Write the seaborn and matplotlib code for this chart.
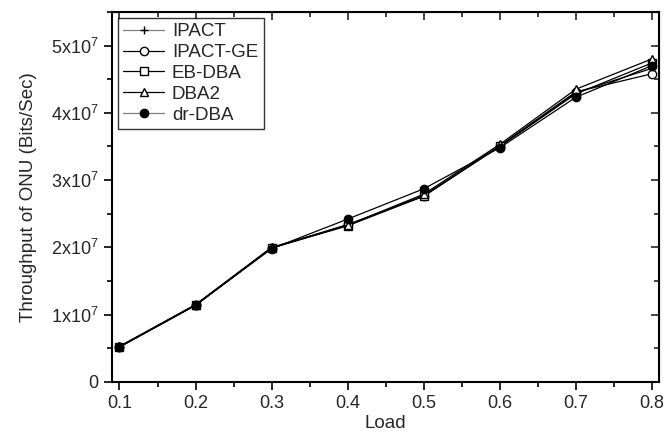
import numpy as np
import pandas as pd
import matplotlib
matplotlib.use('Agg')
import matplotlib.pyplot as plt
from matplotlib.ticker import MultipleLocator, FuncFormatter
import seaborn as sns

sns.set_style('ticks')
plt.rcParams['font.family'] = ['Liberation Sans', 'DejaVu Sans']
plt.rcParams['mathtext.fontset'] = 'custom'
plt.rcParams['mathtext.rm'] = 'Liberation Sans'

load = [0.1, 0.2, 0.3, 0.4, 0.5, 0.6, 0.7, 0.8]
ipact = [5.2e6, 1.14e7, 1.99e7, 2.33e7, 2.77e7, 3.50e7, 4.30e7, 4.66e7]
ipact_ge = [5.2e6, 1.14e7, 1.99e7, 2.34e7, 2.76e7, 3.51e7, 4.31e7, 4.58e7]
eb_dba = [5.2e6, 1.14e7, 1.99e7, 2.32e7, 2.76e7, 3.50e7, 4.28e7, 4.74e7]
dba2 = [5.3e6, 1.15e7, 2.0e7, 2.33e7, 2.79e7, 3.53e7, 4.35e7, 4.80e7]
dr_dba = [5.2e6, 1.14e7, 1.98e7, 2.42e7, 2.87e7, 3.48e7, 4.23e7, 4.70e7]

series = [
    ('IPACT', ipact, '+', 'black'),
    ('IPACT-GE', ipact_ge, 'o', 'white'),
    ('EB-DBA', eb_dba, 's', 'white'),
    ('DBA2', dba2, '^', 'white'),
    ('dr-DBA', dr_dba, 'o', 'black'),
]

fig = plt.figure(figsize=(6.66, 4.42), dpi=100)
ax = fig.add_axes([0.168, 0.136, 0.822, 0.837])

for name, vals, mk, fc in series:
    df = pd.DataFrame({'Load': load, 'val': vals})
    sns.lineplot(data=df, x='Load', y='val', ax=ax, color='black', linewidth=0.9,
                 marker=mk, markersize=6, markerfacecolor=fc, markeredgecolor='black',
                 markeredgewidth=1.0, label=name)

ax.set_xlim(0.09, 0.81)
ax.set_ylim(0, 5.5e7)
ax.xaxis.set_major_locator(MultipleLocator(0.1))
ax.xaxis.set_minor_locator(MultipleLocator(0.05))
ax.yaxis.set_major_locator(MultipleLocator(1e7))
ax.yaxis.set_minor_locator(MultipleLocator(0.5e7))

def yfmt(v, pos):
    n = int(round(v / 1e7))
    if n == 0:
        return '0'
    return r'%dx10$^{7}$' % n

ax.yaxis.set_major_formatter(FuncFormatter(yfmt))
ax.xaxis.set_major_formatter(FuncFormatter(lambda v, p: '%.1f' % v))

ax.tick_params(which='both', direction='out', labelsize=13, width=1.2, color='black')
ax.tick_params(which='major', length=6)
ax.tick_params(which='minor', length=3.5)
for s in ax.spines.values():
    s.set_linewidth(1.5)
    s.set_color('black')

# mirrored inward ticks on top and right
axt = ax.secondary_xaxis('top')
axt.xaxis.set_major_locator(MultipleLocator(0.1))
axt.xaxis.set_minor_locator(MultipleLocator(0.05))
axt.tick_params(which='both', direction='in', labeltop=False, width=1.2)
axt.tick_params(which='major', length=6)
axt.tick_params(which='minor', length=3.5)
axr = ax.secondary_yaxis('right')
axr.yaxis.set_major_locator(MultipleLocator(1e7))
axr.yaxis.set_minor_locator(MultipleLocator(0.5e7))
axr.tick_params(which='both', direction='in', labelright=False, width=1.2)
axr.tick_params(which='major', length=6)
axr.tick_params(which='minor', length=3.5)

ax.set_xlabel('Load', fontsize=13.5, labelpad=2)
ax.set_ylabel('Throughput of ONU (Bits/Sec)', fontsize=13.5, labelpad=10)

leg = ax.legend(loc='upper left', fontsize=13.5, frameon=True, fancybox=False,
                edgecolor='black', handlelength=2.2, labelspacing=0.2,
                borderaxespad=0.3, handletextpad=0.4, borderpad=0.3)
leg.get_frame().set_linewidth(1.0)
for h, (name, vals, mk, fc) in zip(leg.get_lines(), series):
    if name in ('IPACT', 'dr-DBA'):
        h.set_color('gray')
        h.set_markeredgecolor('black')
        h.set_markerfacecolor(fc)

fig.savefig('out.png', dpi=100)
